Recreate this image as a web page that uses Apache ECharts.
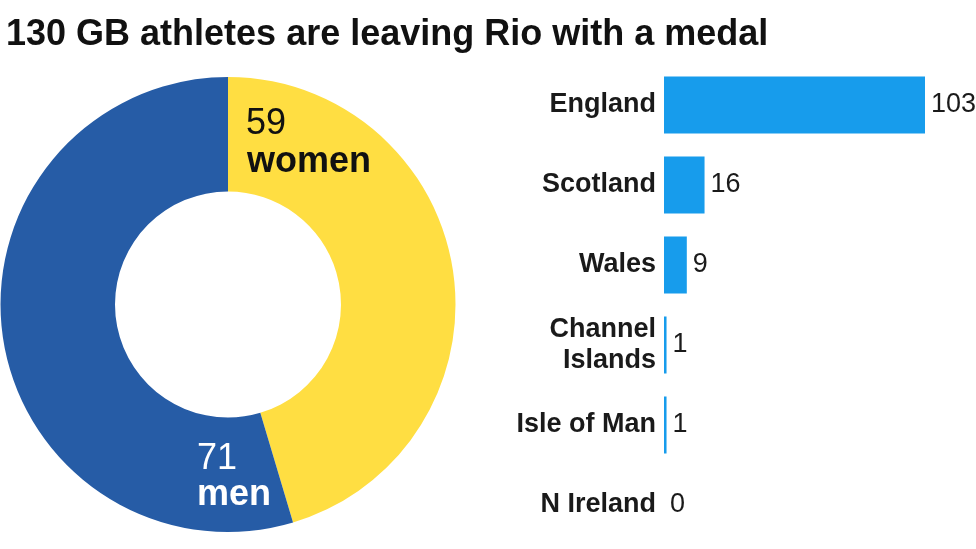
<!DOCTYPE html>
<html>
<head>
<meta charset="utf-8">
<script src="https://cdn.jsdelivr.net/npm/echarts@6/dist/echarts.min.js"></script>
<style>html,body{margin:0;padding:0;background:#fff}#c{width:976px;height:549px}</style>
</head>
<body>
<div id="c"></div>
<script>
var titleText = '130 GB athletes are leaving Rio with a medal';
var genderNames = ['women', 'men'];
var genderValues = [59, 71];
var genderColors = ['#FFDE42', '#265CA6'];
var nations = ['England', 'Scotland', 'Wales', 'Channel\nIslands', 'Isle of Man', 'N Ireland'];
var nationValues = [103, 16, 9, 1, 1, 0];

var FONT = 'Liberation Sans';
function lbl(text, x, y, weight, color) {
  return {
    type: 'text', x: x, y: y, z: 100, silent: true,
    style: { text: text, fontFamily: FONT, fontSize: 36, fontWeight: weight, fill: color, textAlign: 'left', textVerticalAlign: 'middle' }
  };
}
var chart = echarts.init(document.getElementById('c'));
chart.setOption({
  animation: false,
  title: {
    text: titleText, left: 1, top: 12,
    textStyle: { fontFamily: FONT, fontSize: 36, fontWeight: 'bold', color: '#111' }
  },
  grid: { left: 664, right: 51, top: 65, bottom: 4 },
  xAxis: { type: 'value', min: 0, max: 103, show: false },
  yAxis: {
    type: 'category', data: nations, inverse: true,
    axisLine: { show: false }, axisTick: { show: false },
    axisLabel: { margin: 8, fontFamily: FONT, fontSize: 27, fontWeight: 'bold', color: '#1a1a1a', lineHeight: 31, align: 'right' }
  },
  series: [
    {
      type: 'pie', center: [228, 304.5], radius: [113, 227.5], startAngle: 90, clockwise: true,
      label: { show: false }, labelLine: { show: false }, silent: true,
      data: genderNames.map(function (n, i) { return { name: n, value: genderValues[i], itemStyle: { color: genderColors[i] } }; })
    },
    {
      type: 'bar', data: nationValues, barWidth: 57, silent: true,
      itemStyle: { color: '#179CEC' },
      label: { show: true, position: 'right', distance: 6, fontFamily: FONT, fontSize: 27, color: '#1a1a1a' }
    }
  ],
  graphic: [
    lbl(String(genderValues[0]), 246, 124, 'normal', '#111'),
    lbl(genderNames[0], 247, 162, 'bold', '#111'),
    lbl(String(genderValues[1]), 197, 459, 'normal', '#fff'),
    lbl(genderNames[1], 197, 495, 'bold', '#fff')
  ]
});
</script>
</body>
</html>
